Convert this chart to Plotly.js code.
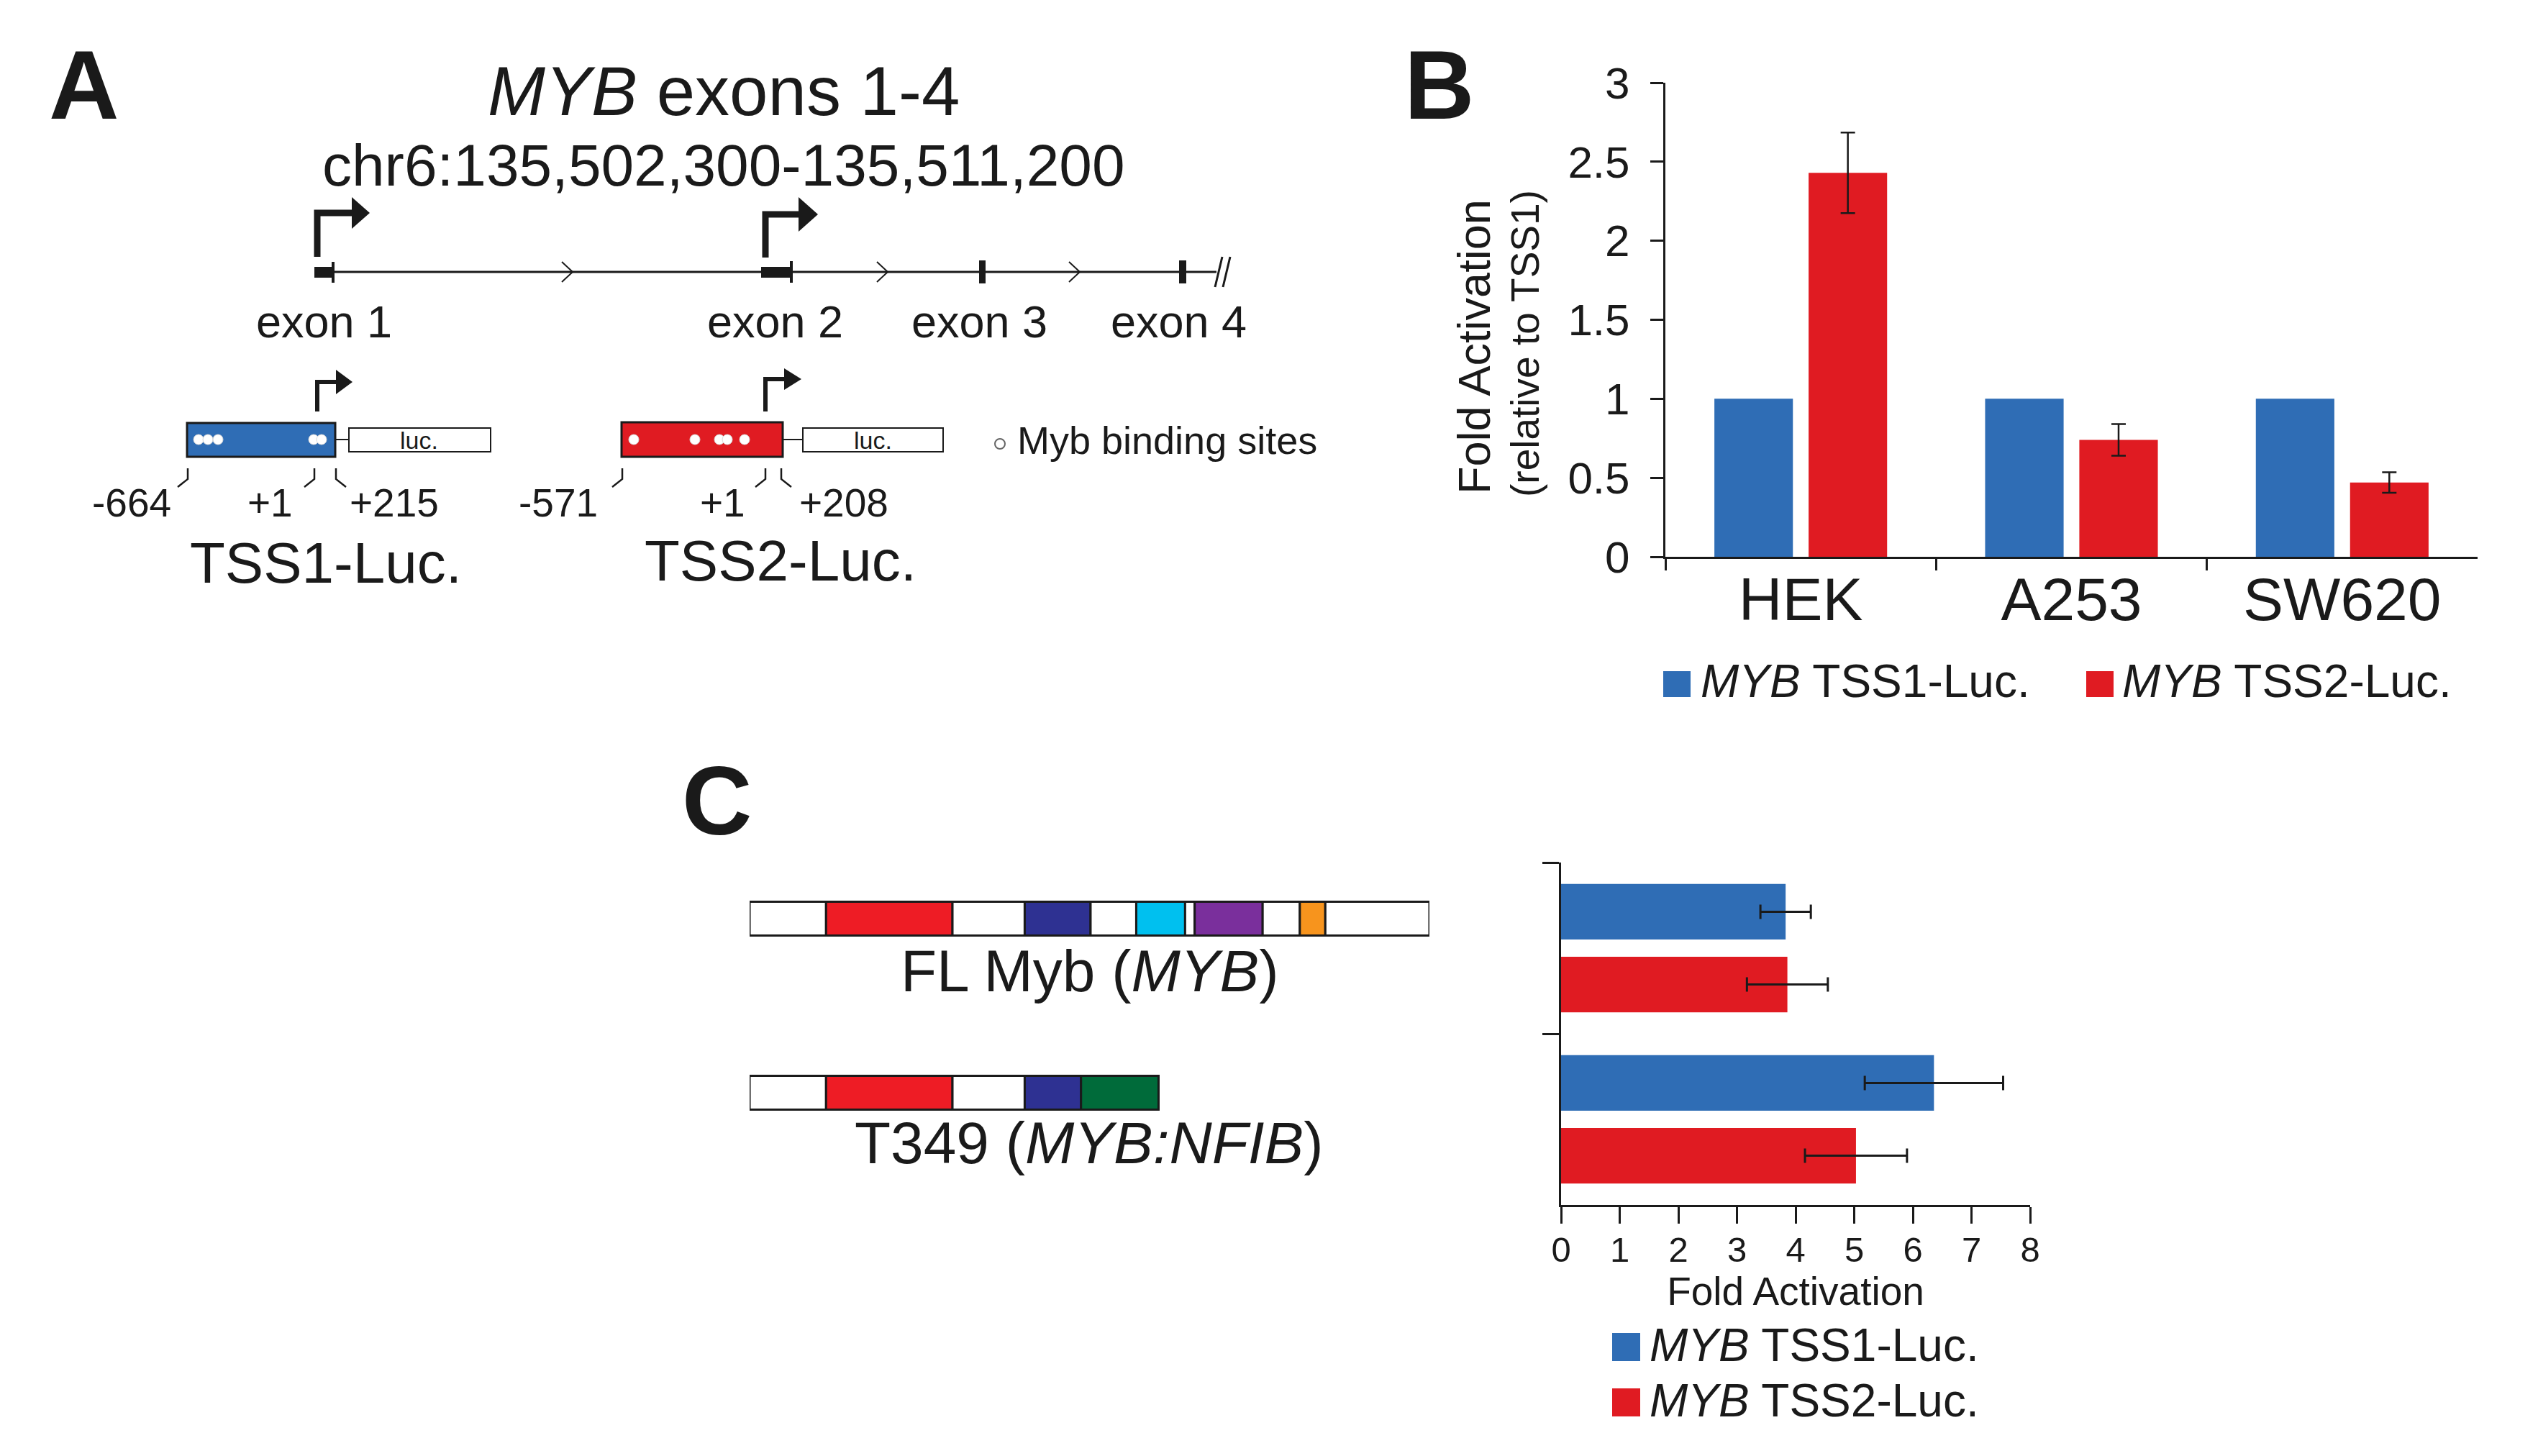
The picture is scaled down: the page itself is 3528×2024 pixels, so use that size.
<!DOCTYPE html>
<html><head><meta charset="utf-8">
<script src="https://cdn.plot.ly/plotly-3.0.1.min.js"></script>
<style>html,body{margin:0;padding:0;background:#fff;}#chart{width:3528px;height:2024px;}</style>
</head><body><div id="chart"></div>
<script>
// ================= DATA =================
// Panel B: fold activation relative to TSS1
const cellLines = ["HEK", "A253", "SW620"];
const tss1Values = [1, 1, 1];
const tss2Values = [2.43, 0.74, 0.47];
const tss2Errors = [0.255, 0.10, 0.065];
const seriesNames = ["<i>MYB</i> TSS1-Luc.", "<i>MYB</i> TSS2-Luc."];
const bTickVals = [0, 0.5, 1, 1.5, 2, 2.5, 3];

// Panel C: fold activation by construct
const constructs = ["FL Myb (<i>MYB</i>)", "T349 (<i>MYB:NFIB</i>)"];
const cTss1Values = [3.83, 6.36];
const cTss1Errors = [0.43, 1.18];
const cTss2Values = [3.86, 5.03];
const cTss2Errors = [0.69, 0.87];
const cTickVals = [0, 1, 2, 3, 4, 5, 6, 7, 8];
const cAxisTitle = "Fold Activation";

// Panel C: construct domain segments (relative lengths) and domain kinds
const flSegments = [72, 119, 68, 62, 43, 46, 9, 64, 35, 24, 98];
const flKinds = ["-", "R", "-", "B", "-", "C", "-", "P", "-", "O", "-"];
const t349Segments = [72, 119, 68, 53, 73];
const t349Kinds = ["-", "R", "-", "B", "G"];

// Panel A texts
const geneTitle = "<i>MYB</i> exons 1-4";
const geneCoords = "chr6:135,502,300-135,511,200";
const exonLabels = ["exon 1", "exon 2", "exon 3", "exon 4"];
const tss1Positions = ["-664", "+1", "+215"];
const tss2Positions = ["-571", "+1", "+208"];
const reporterNames = ["TSS1-Luc.", "TSS2-Luc."];
const bindingLegend = "Myb binding sites";

// ================= STYLE =================
const FONT = "Liberation Sans, Arial, Helvetica, sans-serif";
const INK = "#1a1a1a";
const BLUE = "#2F6DB5";
const RED = "#E01B22";
const KIND_COLORS = {"-": "#ffffff", "R": "#EE1C25", "B": "#2E3192", "C": "#00C0EF", "P": "#7A2F9C", "O": "#F7941D", "G": "#006B3A"};
const W = 3528, H = 2024;
const dx = v => v / W;
const dy = v => 1 - v / H;

// ================= TRACES =================
const traces = [];
traces.push({
  type: "bar", x: cellLines, y: tss1Values, xaxis: "x", yaxis: "y",
  name: seriesNames[0], marker: {color: BLUE}, width: 0.29, offset: -0.319,
  showlegend: false, hoverinfo: "skip"
});
traces.push({
  type: "bar", x: cellLines, y: tss2Values, xaxis: "x", yaxis: "y",
  name: seriesNames[1], marker: {color: RED}, width: 0.29, offset: 0.029,
  error_y: {type: "data", array: tss2Errors, visible: true, color: INK, thickness: 2.5, width: 10},
  showlegend: false, hoverinfo: "skip"
});
traces.push({
  type: "bar", orientation: "h", y: constructs, x: cTss1Values, xaxis: "x2", yaxis: "y2",
  name: seriesNames[0], marker: {color: BLUE}, width: 0.324, offset: -0.3745,
  error_x: {type: "data", array: cTss1Errors, visible: true, color: INK, thickness: 3, width: 10},
  showlegend: false, hoverinfo: "skip"
});
traces.push({
  type: "bar", orientation: "h", y: constructs, x: cTss2Values, xaxis: "x2", yaxis: "y2",
  name: seriesNames[1], marker: {color: RED}, width: 0.324, offset: 0.0505,
  error_x: {type: "data", array: cTss2Errors, visible: true, color: INK, thickness: 3, width: 10},
  showlegend: false, hoverinfo: "skip"
});
// construct diagrams as segmented bars
(function () {
  const ys = [], xs = [], bases = [], cols = [];
  [[flSegments, flKinds, constructs[0]], [t349Segments, t349Kinds, constructs[1]]].forEach(([segs, kinds, name]) => {
    let s = 0;
    segs.forEach((w, i) => { ys.push(name); xs.push(w); bases.push(s); cols.push(KIND_COLORS[kinds[i]]); s += w; });
  });
  traces.push({
    type: "bar", orientation: "h", y: ys, x: xs, base: bases, xaxis: "x3", yaxis: "y3",
    marker: {color: cols, line: {color: INK, width: 3}}, width: 0.194,
    showlegend: false, hoverinfo: "skip"
  });
})();
// pixel-space helper subplot
traces.push({type: "scatter", x: [], y: [], xaxis: "x4", yaxis: "y4", showlegend: false, hoverinfo: "skip"});

// ================= SHAPES (schematics) =================
const shapes = [];
const R = {xref: "x4", yref: "y4", layer: "above"};
function line(x0, y0, x1, y1, w) { shapes.push({...R, type: "line", x0, y0, x1, y1, line: {color: INK, width: w}}); }
function rect(x0, y0, x1, y1, fill, lw) { shapes.push({...R, type: "rect", x0, y0, x1, y1, fillcolor: fill, line: {color: INK, width: lw}}); }
function path(d, fill, lw) { shapes.push({...R, type: "path", path: d, fillcolor: fill || "rgba(0,0,0,0)", line: {color: INK, width: lw || 0}}); }
function circle(cx, cy, r, fill, lc, lw) { shapes.push({...R, type: "circle", x0: cx - r, x1: cx + r, y0: cy - r, y1: cy + r, fillcolor: fill, line: {color: lc, width: lw}}); }
function bentArrow(x, yb, yt, xe, hl, hh, w) {
  path(`M${x},${yb} L${x},${yt} L${xe},${yt}`, null, w);
  path(`M${xe - 3},${yt - hh} L${xe + hl},${yt} L${xe - 3},${yt + hh} Z`, INK, 0);
}

// gene line
line(437, 378, 1691, 378, 3);
rect(437, 371, 462, 386, INK, 0); line(463, 364, 463, 393, 4);
rect(1058, 371, 1098, 386, INK, 0); line(1100, 363, 1100, 393, 4);
rect(1361, 362, 1370, 394, INK, 0);
rect(1639, 362, 1649, 394, INK, 0);
[781, 1219, 1486].forEach(cx => path(`M${cx},364 L${cx + 15},378 L${cx},392`, null, 2));
path("M1689,399 L1699,357", null, 3); path("M1700,399 L1710,357", null, 3);
bentArrow(441, 357, 296, 492, 22, 22, 9);
bentArrow(1064, 358, 298, 1113, 24, 24, 9);

// reporter constructs
bentArrow(441, 572, 531, 470, 20, 17, 6);
bentArrow(1064, 572, 527, 1093, 21, 15, 6);
rect(260, 588, 466, 635, BLUE, 3); line(466, 611, 485, 611, 2); rect(485, 595, 682, 628, "#fff", 2);
rect(864, 587, 1088, 635, RED, 3); line(1088, 611, 1116, 611, 2); rect(1116, 595, 1311, 628, "#fff", 2);
[276, 289, 303, 436, 447].forEach(x => circle(x, 611, 7, "#fff", "#d9d9d9", 1));
[881, 966, 1000, 1011, 1035].forEach(x => circle(x, 611, 7, "#fff", "#d9d9d9", 1));
// position brackets
[[261, -1], [437, -1], [467, 1], [865, -1], [1064, -1], [1086, 1]].forEach(([x, s]) =>
  path(`M${x},651 L${x},666 L${x + 14 * s},677`, null, 2.5));
circle(1390, 617, 7, "#fff", "#666", 2);

// legend swatches
rect(2312, 933, 2350, 969, BLUE, 0); rect(2900, 933, 2938, 969, RED, 0);
rect(2241, 1853, 2280, 1892, BLUE, 0); rect(2241, 1930, 2280, 1969, RED, 0);

// ================= ANNOTATIONS =================
const annotations = [];
function ann(text, x, y, size, o) {
  o = o || {};
  annotations.push({
    xref: "x4", yref: "y4", x, y, text, showarrow: false,
    xanchor: o.xa || "center", yanchor: "middle", textangle: o.rot || 0,
    font: {family: FONT, size, color: INK}
  });
}
ann("<b>A</b>", 66, 118, 135, {xa: "left"});
ann("<b>B</b>", 1950, 118, 135, {xa: "left"});
ann("<b>C</b>", 946, 1113, 135, {xa: "left"});
ann(geneTitle, 1006, 126, 96);
ann(geneCoords, 1006, 229, 82);
[450, 1077, 1361, 1638].forEach((x, i) => ann(exonLabels[i], x, 447, 63));
ann(tss1Positions[0], 240, 699, 55, {xa: "right"});
ann(tss1Positions[1], 409, 699, 55, {xa: "right"});
ann(tss1Positions[2], 484, 699, 55, {xa: "left"});
ann(tss2Positions[0], 833, 699, 55, {xa: "right"});
ann(tss2Positions[1], 1038, 699, 55, {xa: "right"});
ann(tss2Positions[2], 1109, 699, 55, {xa: "left"});
ann("luc.", 582, 612, 34);
ann("luc.", 1213, 612, 34);
ann(reporterNames[0], 453, 782, 80);
ann(reporterNames[1], 1085, 779, 80);
ann(bindingLegend, 1412, 612, 54, {xa: "left"});
// panel B y title
ann("Fold Activation", 2049, 482, 63, {rot: -90});
ann("(relative to TSS1)", 2120, 478, 55, {rot: -90});
// legends
ann(seriesNames[0], 2362, 947, 64, {xa: "left"});
ann(seriesNames[1], 2948, 947, 64, {xa: "left"});
ann(seriesNames[0], 2291, 1870, 64, {xa: "left"});
ann(seriesNames[1], 2291, 1947, 64, {xa: "left"});
// construct names
ann(constructs[0], 1514, 1349, 82);
ann(constructs[1], 1514, 1588, 82);

// ================= LAYOUT =================
const axBase = {showgrid: false, zeroline: false, showline: true, linecolor: INK, linewidth: 3,
  ticks: "outside", tickcolor: INK, tickwidth: 3, fixedrange: true};
const layout = {
  width: W, height: H, margin: {l: 0, r: 0, t: 0, b: 0, pad: 0},
  paper_bgcolor: "#fff", plot_bgcolor: "rgba(0,0,0,0)",
  font: {family: FONT, color: INK}, showlegend: false, barmode: "group",
  xaxis: {...axBase, domain: [dx(2315), dx(3444)], anchor: "y", type: "category", range: [-0.5, 2.5],
    tickson: "boundaries", ticklen: 16, ticklabelstandoff: -16, tickfont: {family: FONT, size: 84, color: INK}},
  yaxis: {...axBase, domain: [dy(774), dy(115)], anchor: "x", range: [0, 3], tickvals: bTickVals,
    ticklen: 18, ticklabelstandoff: 16, tickfont: {family: FONT, size: 62, color: INK}},
  xaxis2: {...axBase, domain: [dx(2170), dx(2822)], anchor: "y2", range: [0, 8], tickvals: cTickVals,
    ticklen: 23, ticklabelstandoff: -6, tickfont: {family: FONT, size: 49, color: INK},
    title: {text: cAxisTitle, font: {family: FONT, size: 55, color: INK}, standoff: 6}},
  yaxis2: {...axBase, domain: [dy(1675), dy(1199)], anchor: "x2", type: "category", range: [1.5, -0.5],
    tickson: "boundaries", ticklen: 23, showticklabels: false},
  xaxis3: {domain: [dx(1042), dx(1987)], anchor: "y3", range: [0, 640], visible: false, fixedrange: true},
  yaxis3: {domain: [dy(1640), dy(1156)], anchor: "x3", type: "category", range: [1.5, -0.5], visible: false, fixedrange: true},
  xaxis4: {domain: [0, 1], anchor: "y4", range: [0, W], visible: false, fixedrange: true},
  yaxis4: {domain: [0, 1], anchor: "x4", range: [H, 0], visible: false, fixedrange: true},
  shapes, annotations
};
Plotly.newPlot("chart", traces, layout, {staticPlot: true, displayModeBar: false});
</script></body></html>
